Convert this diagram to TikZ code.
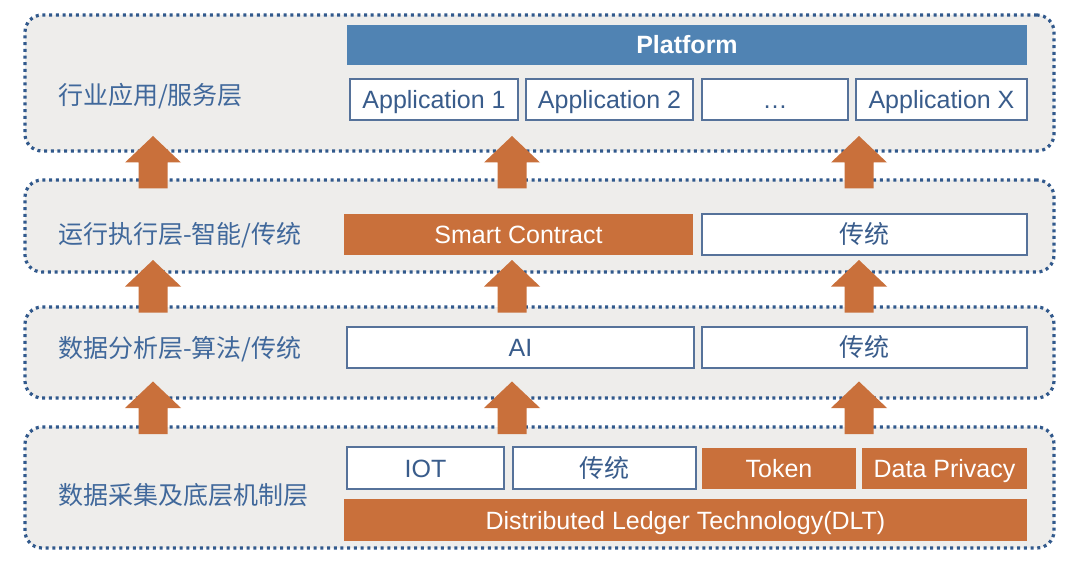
\documentclass[tikz,border=0pt]{standalone}
\usepackage{fontspec}
\setmainfont{Liberation Sans}
\newfontfamily\cjk{Noto Sans CJK SC}
\definecolor{org}{HTML}{C9703B}
\definecolor{plat}{HTML}{5083B3}
\definecolor{lbl}{HTML}{40689B}
\definecolor{dotc}{HTML}{31598C}
\definecolor{bgc}{HTML}{EEEDEB}
\definecolor{bdr}{HTML}{56729A}
\definecolor{btxt}{HTML}{395C8B}
\tikzset{
  layer/.style={draw=dotc, fill=bgc, line width=3.2pt, dash pattern=on 3pt off 3.7pt, rounded corners=17pt, inner sep=0pt},
  txt/.style={inner sep=0pt, text height=18pt, text depth=0pt, font=\fontsize{25}{30}\selectfont},
  wbox/.style={txt, draw=bdr, fill=white, line width=1.3pt, text=btxt},
  obox/.style={txt, fill=org, text=white},
  pbox/.style={txt, fill=plat, text=white, font=\fontsize{25}{30}\selectfont\bfseries},
  lab/.style={anchor=west, text=lbl, inner sep=0pt, font=\fontsize{25}{30}\selectfont\cjk},
  uparrow/.pic={\fill[org] (-14.5,0) -- (-14.5,-26) -- (-28,-26) -- (0,-52.5) -- (28,-26) -- (14.5,-26) -- (14.5,0) -- cycle;}
}
\begin{document}
\begin{tikzpicture}[x=1pt,y=-1pt]
\fill[white] (0,0) rectangle (1080,567);
\useasboundingbox (0,0) rectangle (1080,567);
% layers
\node[layer, minimum width=1029, minimum height=136] (L1) at (539.5,83) {};
\node[layer, minimum width=1029, minimum height=92] (L2) at (539.5,226) {};
\node[layer, minimum width=1029, minimum height=91] (L3) at (539.5,352.5) {};
\node[layer, minimum width=1029, minimum height=121] (L4) at (539.5,487.5) {};
% labels
\node[lab] (t1) at (58,96) {行业应用/服务层};
\node[lab] (t2) at (58,235) {运行执行层-智能/传统};
\node[lab] (t3) at (58,349) {数据分析层-算法/传统};
\node[lab] (t4) at (58,495) {数据采集及底层机制层};
% layer 1
\node[pbox, minimum width=680, minimum height=40] (plat) at (687,45) {Platform};
\node[wbox, minimum width=168, minimum height=41] (app1) at (434,99.5) {Application 1};
\node[wbox, minimum width=167, minimum height=41] (app2) at (609.5,99.5) {Application 2};
\node[wbox, minimum width=146, minimum height=41] (appd) at (775,99.5) {\dots};
\node[wbox, minimum width=171, minimum height=41] (appx) at (941.5,99.5) {Application X};
% layer 2
\node[obox, minimum width=349, minimum height=41] (sc) at (518.5,234.5) {Smart Contract};
\node[wbox, minimum width=325, minimum height=41] (tr2) at (864.5,234.5) {\cjk 传统};
% layer 3
\node[wbox, minimum width=347, minimum height=41] (ai) at (520.5,347.5) {AI};
\node[wbox, minimum width=325, minimum height=41] (tr3) at (864.5,347.5) {\cjk 传统};
% layer 4
\node[wbox, minimum width=157, minimum height=42] (iot) at (425.5,468) {IOT};
\node[wbox, minimum width=183, minimum height=42] (tr4) at (604.5,468) {\cjk 传统};
\node[obox, minimum width=154, minimum height=41] (tok) at (779,468) {Token};
\node[obox, minimum width=165, minimum height=41] (dp) at (944.5,468) {Data Privacy};
\node[obox, minimum width=683, minimum height=42] (dlt) at (685.5,520) {Distributed Ledger Technology(DLT)};
% arrows
\pic at (153,188.5) {uparrow};
\pic at (512,188.5) {uparrow};
\pic at (859,188.5) {uparrow};
\pic at (153,312.5) {uparrow};
\pic at (512,312.5) {uparrow};
\pic at (859,312.5) {uparrow};
\pic at (153,434) {uparrow};
\pic at (512,434) {uparrow};
\pic at (859,434) {uparrow};
\end{tikzpicture}
\end{document}
